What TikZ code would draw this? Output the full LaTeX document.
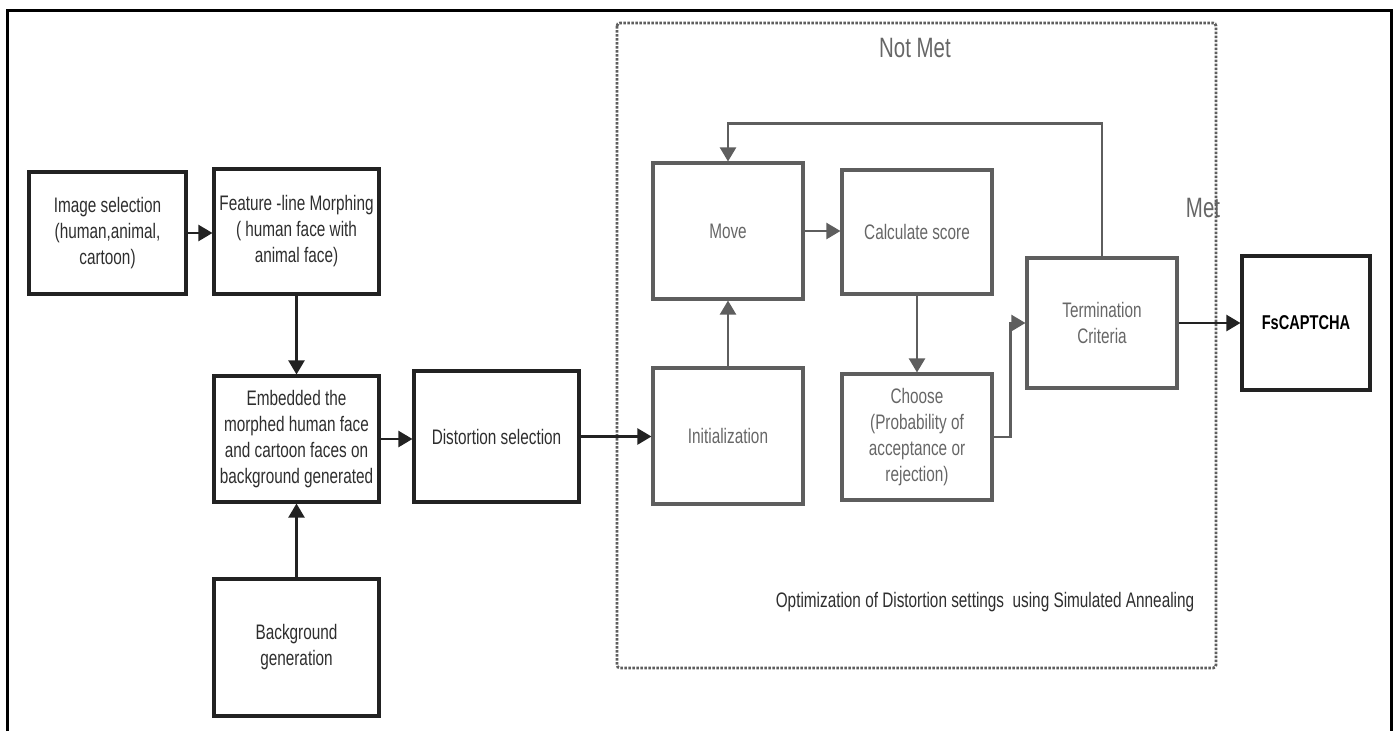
\documentclass[tikz,border=0pt]{standalone}
\usepackage{fontspec}
\setmainfont{Liberation Sans}[FakeStretch=0.73]
\usetikzlibrary{arrows.meta}
\definecolor{outerc}{HTML}{222222}
\definecolor{innerc}{HTML}{5E5E5E}
\definecolor{txtdark}{HTML}{2E2E2E}
\definecolor{txtgray}{HTML}{666666}
\tikzset{
  boxdark/.style={rectangle, draw=outerc, line width=3.1pt, inner sep=0pt, align=center,
    text=txtdark, font=\fontsize{21}{26}\selectfont},
  boxgray/.style={rectangle, draw=innerc, line width=3.1pt, inner sep=0pt, align=center,
    text=txtgray, font=\fontsize{21}{26}\selectfont},
  arrdark/.style={draw=outerc, line width=2.3pt, -{Triangle[length=14pt,width=16pt]}},
  arrgray/.style={draw=innerc, line width=2.3pt, -{Triangle[length=14pt,width=16pt]}},
  lbl/.style={text=txtgray, inner sep=0pt},
}
\begin{document}
\begin{tikzpicture}[x=1pt,y=-1pt]
\useasboundingbox (0,0) rectangle (1399,731);
% outer frame (open at bottom)
\draw[black, line width=3pt] (7,731) -- (7,10) -- (1391,10) -- (1391,731);

% left boxes
\node[boxdark, minimum width=157pt, minimum height=122pt] (img) at (107.5,233) {Image selection\\(human,animal,\\cartoon)};
\node[boxdark, minimum width=165pt, minimum height=125pt] (feat) at (296.5,231.5) {Feature -line Morphing\\( human face with\\animal face)};
\node[boxdark, minimum width=165pt, minimum height=126pt] (emb) at (296.5,439) {Embedded the\\morphed human face\\and cartoon faces on\\background generated};
\node[boxdark, minimum width=165pt, minimum height=137pt] (bg) at (296.5,647.5) {Background\\generation};
\node[boxdark, minimum width=165pt, minimum height=131pt] (dist) at (496.5,436.5) {Distortion selection};

% labels
\node[lbl, font=\fontsize{28}{30}\selectfont] (notmet) at (915,48) {Not Met};
\node[lbl, font=\fontsize{28}{30}\selectfont] (met) at (1203,208) {Met};
\node[lbl, text=txtdark, font=\fontsize{21}{26}\selectfont] (opt) at (985,602) {Optimization of Distortion settings\ \ using Simulated Annealing};

% dashed region
\draw[innerc, line width=2.8pt, dash pattern=on 2.5pt off 1.5pt, rounded corners=3pt] (617,23) rectangle (1216,668);

% inner boxes
\node[boxgray, minimum width=150pt, minimum height=136pt] (move) at (728,231) {Move};
\node[boxgray, minimum width=150pt, minimum height=124pt] (calc) at (917,232) {Calculate score};
\node[boxgray, minimum width=150pt, minimum height=136pt] (init) at (728,436) {Initialization};
\node[boxgray, minimum width=150pt, minimum height=126pt] (choose) at (917,437) {Choose\\(Probability of\\acceptance or\\rejection)};
\node[boxgray, minimum width=150pt, minimum height=130pt] (term) at (1102,323) {Termination\\Criteria};
\node[boxdark, text=black, minimum width=128pt, minimum height=134pt, font=\bfseries\fontsize{20}{26}\selectfont] (fs) at (1306,323) {FsCAPTCHA};

% connectors
\draw[arrdark] (img.east) -- (img.east -| feat.west);
\draw[arrdark] (feat.south) -- (emb.north);
\draw[arrdark] (bg.north) -- (emb.south);
\draw[arrdark] (emb.east) -- (emb.east -| dist.west);
\draw[arrdark] (dist.east) -- (dist.east -| init.west);
\draw[arrgray] (init.north) -- (move.south);
\draw[arrgray] (move.east) -- (move.east -| calc.west);
\draw[arrgray] (calc.south) -- (choose.north);
\draw[arrgray] (choose.east) -- ++(17,0) |- (term.west);
\draw[arrdark] (term.east) -- (fs.west);
\draw[arrgray] (term.north) -- ++(0,-133) -| (move.north);
\end{tikzpicture}
\end{document}
